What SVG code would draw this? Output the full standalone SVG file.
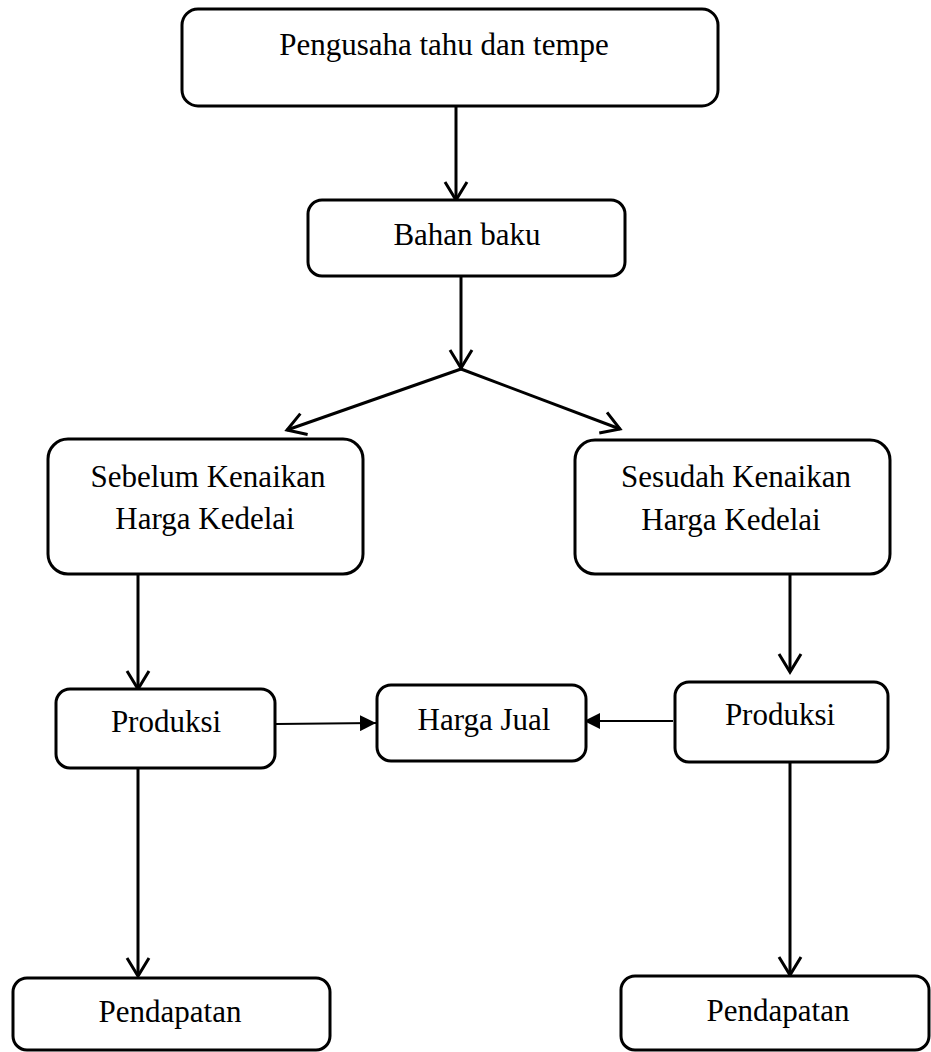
<svg xmlns="http://www.w3.org/2000/svg" width="931" height="1052" viewBox="0 0 931 1052">
<defs>
<style>
.box{fill:#fff;stroke:#000;stroke-width:3}
.t{font-family:"Liberation Serif","Times New Roman",serif;font-size:31px;fill:#000;text-anchor:middle}
.c{fill:none;stroke:#000;stroke-width:3}
.thin{fill:none;stroke:#000;stroke-width:1.8}
</style>
<marker id="v" markerUnits="userSpaceOnUse" markerWidth="26" markerHeight="28" refX="21" refY="13" orient="auto" overflow="visible">
<path d="M3,2 L21,13 L3,24" fill="none" stroke="#000" stroke-width="3"/>
</marker>
<marker id="tri" markerUnits="userSpaceOnUse" markerWidth="18" markerHeight="16" refX="16" refY="8" orient="auto">
<path d="M0,0 L16,8 L0,16 Z" fill="#000"/>
</marker>
</defs>
<rect width="931" height="1052" fill="#fff"/>
<g id="connectors">
<line class="c" x1="456" y1="106" x2="456" y2="200" marker-end="url(#v)"/>
<line class="c" x1="461" y1="276" x2="461" y2="368" marker-end="url(#v)"/>
<line class="c" x1="461" y1="369" x2="287" y2="430" marker-end="url(#v)"/>
<line class="c" x1="461" y1="369" x2="620" y2="429" marker-end="url(#v)"/>
<line class="c" x1="138" y1="574" x2="138" y2="689" marker-end="url(#v)"/>
<line class="c" x1="790" y1="574" x2="790" y2="672" marker-end="url(#v)"/>
<line class="c" x1="138" y1="768" x2="138" y2="976" marker-end="url(#v)"/>
<line class="c" x1="790" y1="762" x2="790" y2="975" marker-end="url(#v)"/>
<line class="thin" x1="276" y1="724" x2="376" y2="723" marker-end="url(#tri)"/>
<line class="thin" x1="673" y1="721" x2="584" y2="721" marker-end="url(#tri)"/>
</g>
<g id="n1"><rect class="box" x="182" y="9" width="536" height="97" rx="16"/><text class="t" x="444" y="55">Pengusaha tahu dan tempe</text></g>
<g id="n2"><rect class="box" x="308" y="200" width="317" height="76" rx="14"/><text class="t" x="467" y="245">Bahan baku</text></g>
<g id="n3"><rect class="box" x="48" y="439" width="315" height="135" rx="20"/><text class="t" x="208" y="487">Sebelum Kenaikan</text><text class="t" x="205" y="529">Harga Kedelai</text></g>
<g id="n4"><rect class="box" x="575" y="440" width="315" height="134" rx="20"/><text class="t" x="736" y="487">Sesudah Kenaikan</text><text class="t" x="731" y="530">Harga Kedelai</text></g>
<g id="n5"><rect class="box" x="56" y="689" width="219" height="79" rx="14"/><text class="t" x="166" y="732">Produksi</text></g>
<g id="n6"><rect class="box" x="377" y="685" width="209" height="76" rx="14"/><text class="t" x="484" y="730">Harga Jual</text></g>
<g id="n7"><rect class="box" x="675" y="682" width="213" height="80" rx="14"/><text class="t" x="780" y="725">Produksi</text></g>
<g id="n8"><rect class="box" x="13" y="978" width="317" height="72" rx="14"/><text class="t" x="170" y="1022">Pendapatan</text></g>
<g id="n9"><rect class="box" x="621" y="976" width="308" height="74" rx="14"/><text class="t" x="778" y="1021">Pendapatan</text></g>
</svg>
